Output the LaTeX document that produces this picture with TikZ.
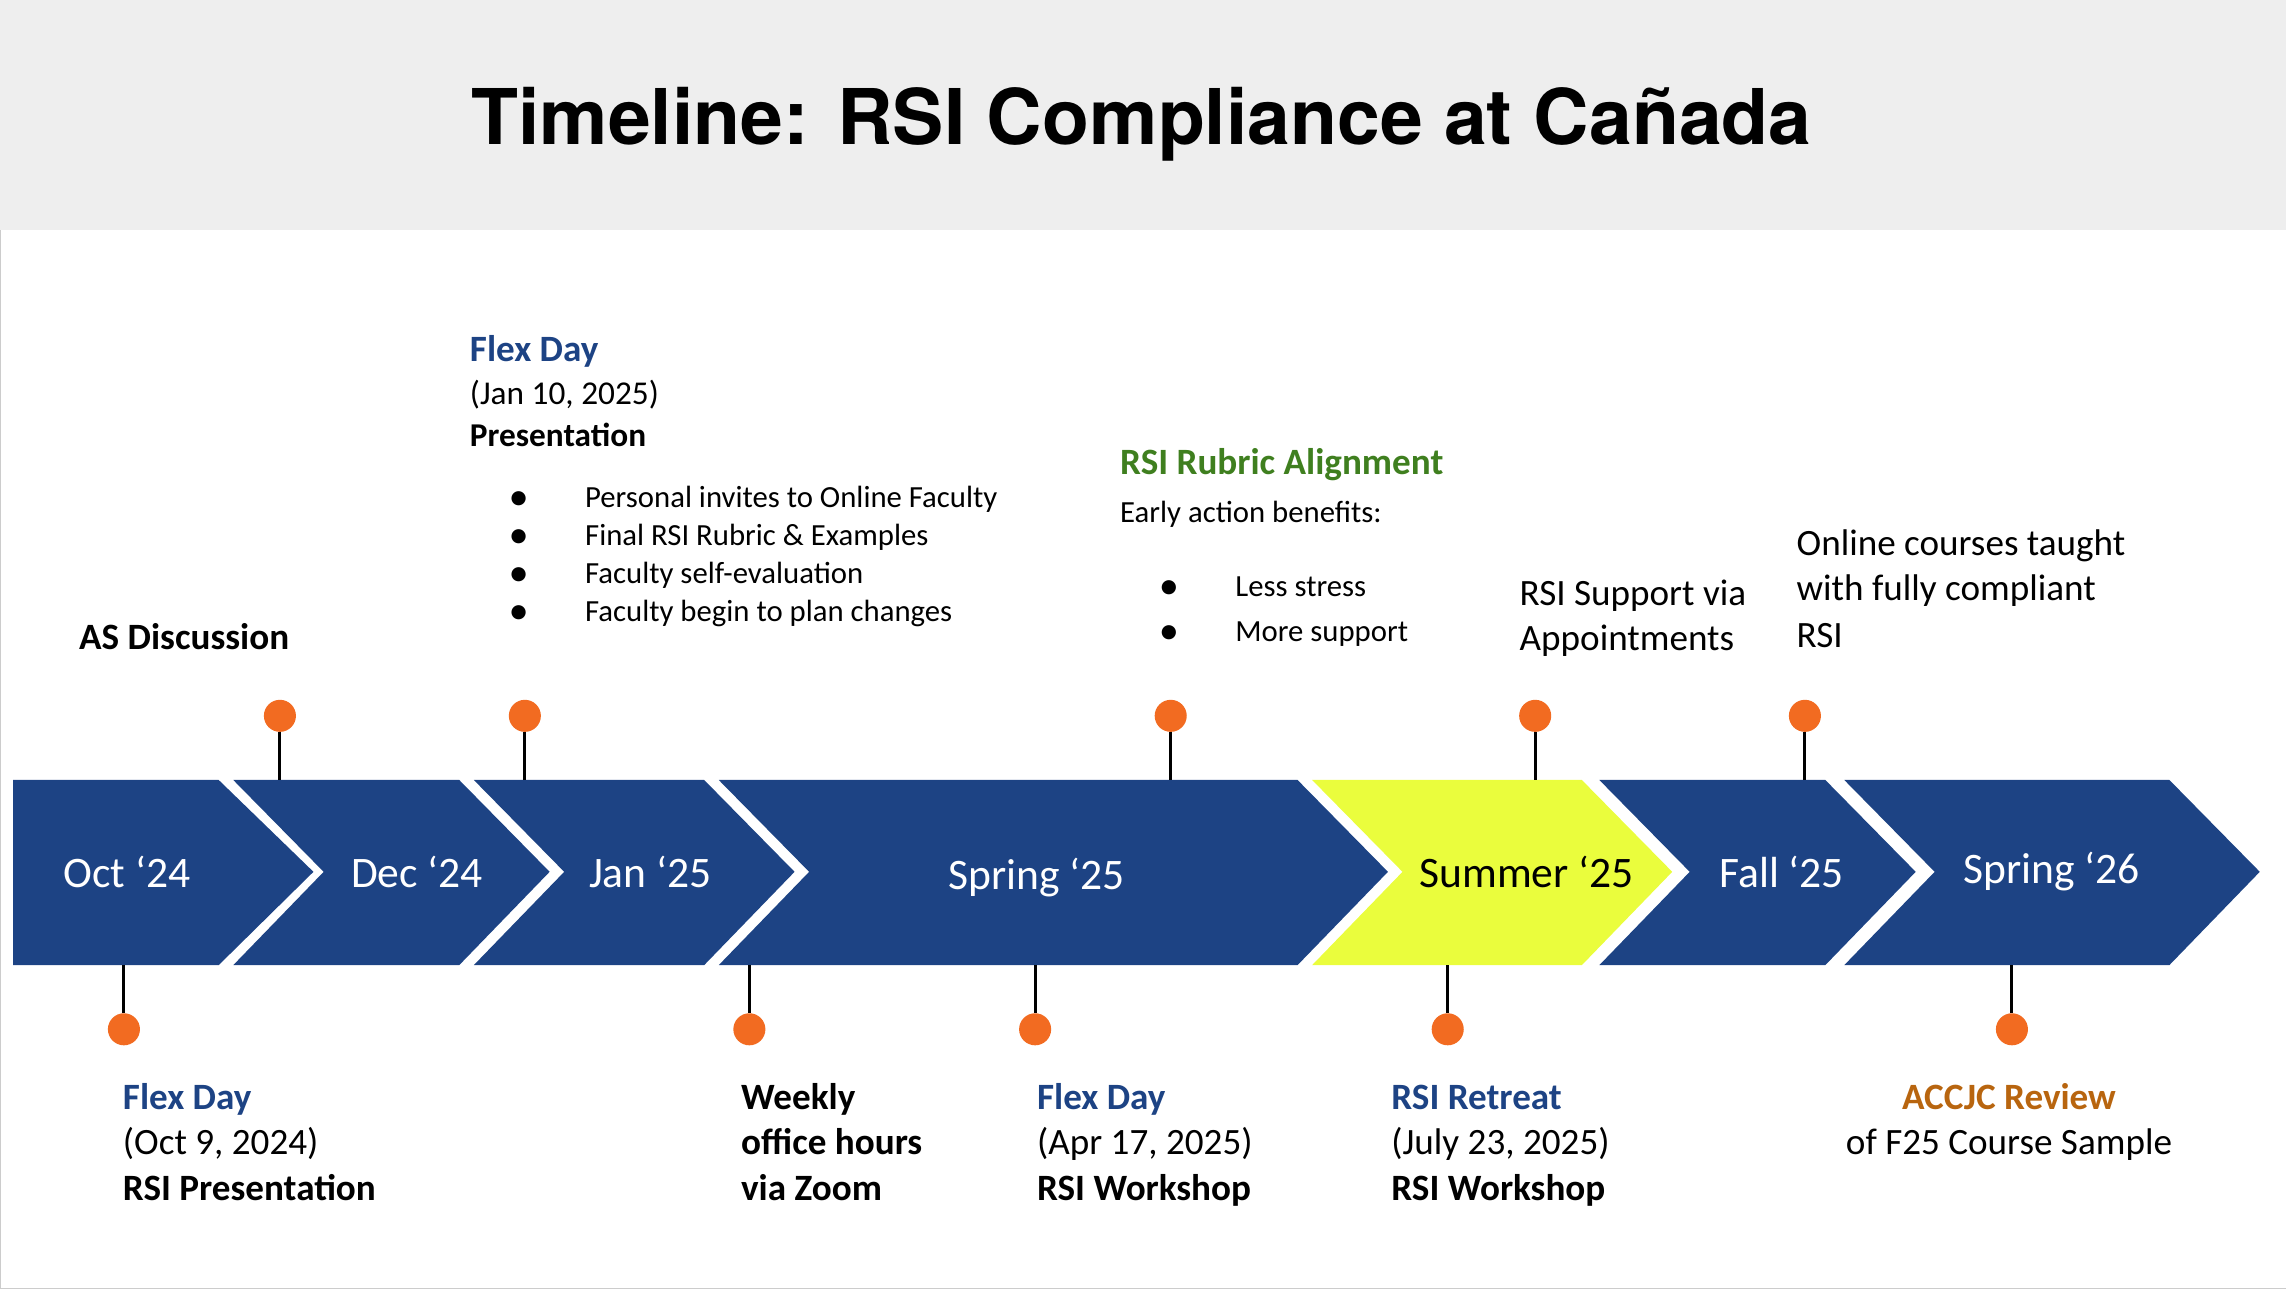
\documentclass[tikz,border=0pt]{standalone}
\usepackage{fontspec}
\setmainfont{Carlito}
\newfontfamily\titlefont{TeX Gyre Heros}
\definecolor{navy}{HTML}{1D4384}
\definecolor{lime}{HTML}{EAFD3D}
\definecolor{pinorange}{HTML}{F26B21}
\definecolor{leafgreen}{HTML}{3F7F1F}
\definecolor{rustorange}{HTML}{B8650F}
\definecolor{headgray}{HTML}{EEEEEE}
\begin{document}
\begin{tikzpicture}[
                        x=0.02cm, y=-0.02cm,
                        pindot/.style={circle,fill=pinorange,inner sep=0pt,minimum size=0.44cm},
                        stem/.style={draw=black,line width=1.2pt},
                        chevtext/.style={text=white,font=\fontsize{17}{20}\selectfont},
                        note/.style={anchor=mid west,inner sep=0pt,font=\fontsize{14.5}{18}\selectfont},
                        small/.style={anchor=mid west,inner sep=0pt,font=\fontsize{12}{15}\selectfont}
                    ]
                    \useasboundingbox (0,0) rectangle (1568,884);
                    \draw [black!20] (0,0) rectangle (1568,884);
                    % Header
                    \fill [headgray] (0,0) rectangle (1568,158);
                    \node [font=\titlefont\bfseries\fontsize{30}{34}\selectfont] (title) at (783,85) {Timeline: RSI Compliance at Cañada};

                    % Chevrons
                    \fill [navy] (9,535) -- (150,535) -- (215,598) -- (150,662) -- (9,662) -- cycle;
                    \foreach \l/\r/\c in {160/315/navy,325/483/navy,493/890/navy,900/1085/lime,1097/1252/navy,1265/1488/navy}
                        \fill [\c] (\l,535) -- (\r,535) -- (\r+62,598) -- (\r,662) -- (\l,662) -- (\l+62,598) -- cycle;
                    \node [chevtext] (oct) at (87,598) {Oct ‘24};
                    \node [chevtext] (dec) at (286,598) {Dec ‘24};
                    \node [chevtext] (jan) at (446,598) {Jan ‘25};
                    \node [chevtext] (spring) at (711,602) {Spring ‘25};
                    \node [chevtext,text=black] (summer) at (1047,598) {Summer ‘25};
                    \node [chevtext] (fall) at (1222,598) {Fall ‘25};
                    \node [chevtext] (spring2) at (1407,598) {Spring ‘26};

                    % Pins
                    \foreach \x [count=\i] in {192,360,803,1053,1238} {
                        \node [pindot] (up\i) at (\x,491) {};
                        \coordinate (upbase\i) at (\x,535);
                        \draw [stem] (up\i) -- (upbase\i);
                    }
                    \foreach \x [count=\i] in {85,514,710,993,1380} {
                        \node [pindot] (down\i) at (\x,706) {};
                        \coordinate (downbase\i) at (\x,662);
                        \draw [stem] (down\i) -- (downbase\i);
                    }

                    % Upper notes
                    \node [note,font=\bfseries\fontsize{14.5}{18}\selectfont] (asdisc) at (54,441) {AS Discussion};
                    \node [note,text=navy,font=\bfseries\fontsize{14.5}{18}\selectfont] (flexjan) at (322,244) {Flex Day};
                    \node [small,font=\fontsize{13}{16}\selectfont] (flexjandate) at (322,273) {(Jan 10, 2025)};
                    \node [small,font=\bfseries\fontsize{13}{16}\selectfont] (flexjanpres) at (322,302) {Presentation};
                    \foreach \y/\t in {344/Personal invites to Online Faculty,370/Final RSI Rubric \& Examples,396/Faculty self-evaluation,422/Faculty begin to plan changes} {
                        \node [small] at (349,\y) {●};
                        \node [small] at (401,\y) {\t};
                    }
                    \node [note,text=leafgreen,font=\bfseries\fontsize{14.5}{18}\selectfont] (rubric) at (768,321) {RSI Rubric Alignment};
                    \node [small] (early) at (768,354) {Early action benefits:};
                    \foreach \y/\t in {405/Less stress,436/More support} {
                        \node [small] at (795,\y) {●};
                        \node [small] at (847,\y) {\t};
                    }
                    \node [note] (support1) at (1042,411) {RSI Support via};
                    \node [note] (support2) at (1042,442) {Appointments};
                    \node [note] (online1) at (1232,377) {Online courses taught};
                    \node [note] (online2) at (1232,408) {with fully compliant};
                    \node [note] (online3) at (1232,440) {RSI};

                    % Lower notes
                    \node [note,text=navy,font=\bfseries\fontsize{14.5}{18}\selectfont] (flexoct) at (84,757) {Flex Day};
                    \node [note] (flexoctdate) at (84,788) {(Oct 9, 2024)};
                    \node [note,font=\bfseries\fontsize{14.5}{18}\selectfont] (flexoctpres) at (84,819) {RSI Presentation};
                    \node [note,font=\bfseries\fontsize{14.5}{18}\selectfont] (weekly1) at (508,757) {Weekly};
                    \node [note,font=\bfseries\fontsize{14.5}{18}\selectfont] (weekly2) at (508,788) {office hours};
                    \node [note,font=\bfseries\fontsize{14.5}{18}\selectfont] (weekly3) at (508,819) {via Zoom};
                    \node [note,text=navy,font=\bfseries\fontsize{14.5}{18}\selectfont] (flexapr) at (711,757) {Flex Day};
                    \node [note] (flexaprdate) at (711,788) {(Apr 17, 2025)};
                    \node [note,font=\bfseries\fontsize{14.5}{18}\selectfont] (flexaprwork) at (711,819) {RSI Workshop};
                    \node [note,text=navy,font=\bfseries\fontsize{14.5}{18}\selectfont] (retreat) at (954,757) {RSI Retreat};
                    \node [note] (retreatdate) at (954,788) {(July 23, 2025)};
                    \node [note,font=\bfseries\fontsize{14.5}{18}\selectfont] (retreatwork) at (954,819) {RSI Workshop};
                    \node [note,anchor=mid,text=rustorange,font=\bfseries\fontsize{14.5}{18}\selectfont] (accjc) at (1378,757) {ACCJC Review};
                    \node [note,anchor=mid] (accjcsample) at (1378,788) {of F25 Course Sample};
                \end{tikzpicture}
\end{document}
